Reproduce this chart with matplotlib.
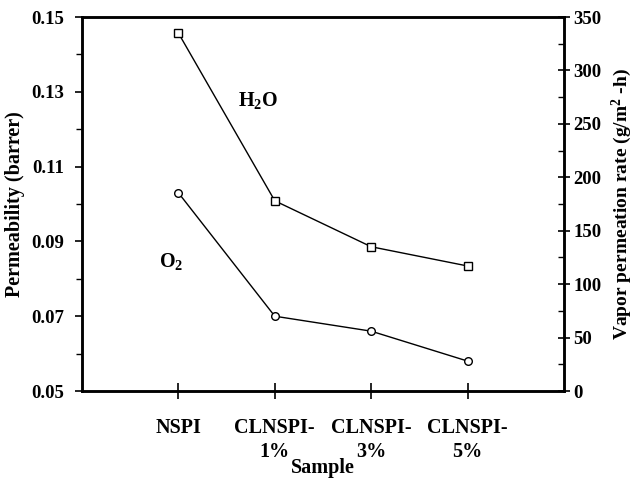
import matplotlib
matplotlib.use("Agg")
import matplotlib.pyplot as plt
from matplotlib.ticker import MultipleLocator, FixedLocator

samples = ["NSPI", "CLNSPI-\n1%", "CLNSPI-\n3%", "CLNSPI-\n5%"]
o2_perm = [0.103, 0.070, 0.066, 0.058]
h2o_rate = [335, 178, 135, 117]
perm_ticks = [0.05, 0.07, 0.09, 0.11, 0.13, 0.15]

plt.rcParams["font.family"] = ["Liberation Serif", "DejaVu Serif"]
plt.rcParams["font.weight"] = "bold"
plt.rcParams["mathtext.fontset"] = "custom"
plt.rcParams["mathtext.rm"] = "Liberation Serif:bold"
plt.rcParams["mathtext.it"] = "Liberation Serif:bold"
plt.rcParams["mathtext.bf"] = "Liberation Serif:bold"

fs = 14.5
tfs = 13.5
fig = plt.figure(figsize=(6.42, 4.78), dpi=100)
ax = fig.add_axes([0.1277, 0.182, 0.7508, 0.7824])
ax2 = ax.twinx()

x = list(range(len(samples)))
ax.plot(x, o2_perm, color="black", lw=1.0, marker="o", ms=5.5,
        mfc="white", mec="black", mew=1.0)
ax2.plot(x, h2o_rate, color="black", lw=1.0, marker="s", ms=5.5,
         mfc="white", mec="black", mew=1.0)

ax.set_xlim(-1, 4)
ax.set_ylim(0.05, 0.15)
ax.yaxis.set_major_locator(FixedLocator(perm_ticks))
ax.yaxis.set_minor_locator(MultipleLocator(0.01))
ax.yaxis.set_major_formatter(plt.FuncFormatter(lambda v, p: f"{v:.2f}"))
ax2.set_ylim(0, 350)
ax2.yaxis.set_major_locator(MultipleLocator(50))
ax2.yaxis.set_minor_locator(MultipleLocator(25))

ax.set_xticks(x)
ax.set_xticklabels(samples, fontsize=fs, fontweight="bold", linespacing=1.25)
ax.tick_params(axis="x", direction="inout", length=11, width=1.2, pad=14)
ax.tick_params(axis="y", which="major", direction="out", length=5, width=1.2,
               labelsize=tfs, pad=8)
ax.tick_params(axis="y", which="minor", direction="out", length=4, width=1.0)
ax2.tick_params(axis="y", which="major", direction="inout", length=9, width=1.2,
                labelsize=tfs, pad=2)
ax2.tick_params(axis="y", which="minor", direction="in", length=4, width=1.0)

for a in (ax, ax2):
    for s in a.spines.values():
        s.set_linewidth(1.8)

ax.set_ylabel("Permeability (barrer)", fontsize=fs, fontweight="bold", labelpad=4)
ax2.set_ylabel("Vapor permeation rate (g/m$^2$ -h)", fontsize=14,
               fontweight="bold", labelpad=6)
ax.set_xlabel("Sample", fontsize=fs, fontweight="bold", labelpad=-3)

ax.text(0.83, 0.1278, "H$_2$O", fontsize=fs, ha="center", va="center")
ax.text(-0.07, 0.0845, "O$_2$", fontsize=fs, ha="center", va="center")

fig.savefig("out.png", dpi=100)
